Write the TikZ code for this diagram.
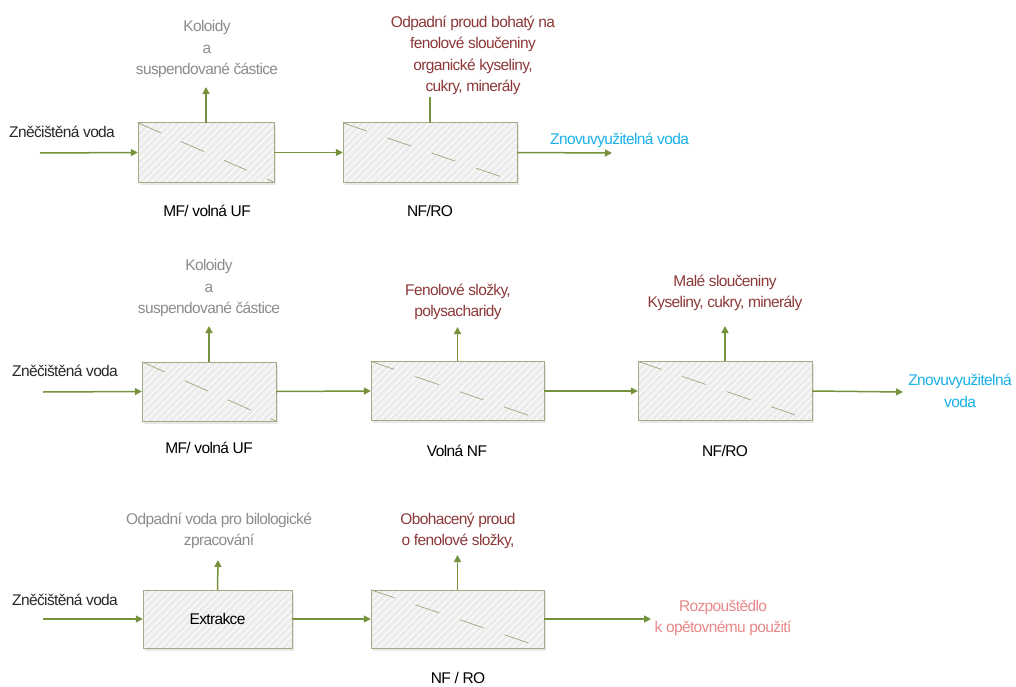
\documentclass[tikz,border=0pt]{standalone}
\usepackage{fontspec}
\setmainfont[LetterSpace=-4]{Liberation Sans}
\usetikzlibrary{arrows.meta,patterns.meta,shadows}

\definecolor{flowgreen}{RGB}{118,146,60}
\definecolor{boxline}{RGB}{163,170,132}
\definecolor{boxfill}{RGB}{236,236,236}
\definecolor{hatchline}{RGB}{160,164,120}
\definecolor{greytext}{RGB}{140,140,140}
\definecolor{redtext}{RGB}{140,56,56}
\definecolor{cyantext}{RGB}{26,176,232}
\definecolor{salmontext}{RGB}{232,136,136}
\definecolor{darktext}{RGB}{40,40,40}

\tikzset{
  procbox/.style={fill=boxfill,
    minimum height=59pt, inner sep=0pt,
    drop shadow={opacity=0.18, shadow xshift=1.5pt, shadow yshift=-2.5pt},
    postaction={pattern={Lines[angle=45,distance=5pt,line width=1.3pt]}, pattern color=white!80!boxfill},
    postaction={draw=boxline, line width=1pt}},
  flow/.style={draw=flowgreen, line width=1.5pt, -{Triangle[length=7pt,width=7pt]}},
  plainflow/.style={draw=flowgreen, line width=1.5pt},
  slash/.style={draw=hatchline, line width=0.7pt, dash pattern=on 25pt off 22pt},
  txt/.style={font=\fontsize{15.5}{21.5}\selectfont, align=center, inner sep=0pt},
  feedtxt/.style={txt, text=darktext, anchor=west},
  unittxt/.style={txt, text=black}
}

\begin{document}
\begin{tikzpicture}[x=1pt,y=-1pt]
\useasboundingbox (0,0) rectangle (1016,687);

% ---------- first line: MF/UF followed by NF/RO ----------
\node[procbox, minimum width=136pt] (a1) at (206,152.5) {};
\node[procbox, minimum width=174pt] (a2) at (430,152.5) {};
\draw[slash] (a1.north west) -- (a1.south east);
\draw[slash] (a2.north west) -- (a2.south east);

\coordinate (a0) at (40,153);
\coordinate (a1up) at (206,87);
\coordinate (a2up) at (430,97);
\coordinate (a2out) at (612,153);

\draw[flow] (a0) -- (a1.west);
\draw[flow] (a1.east) -- (a2.west);
\draw[flow] (a1.north) -- (a1up);
\draw[plainflow] (a2.north) -- (a2up);
\draw[flow] (a2.east) -- (a2out);

\node[feedtxt] (a0t) at (9,132) {Zněčištěná voda};
\node[txt, text=greytext] (a1upt) at (207,49) {Koloidy\\a\\suspendované částice};
\node[txt, text=redtext] (a2upt) at (473,55.5) {Odpadní proud bohatý na\\fenolové sloučeniny\\organické kyseliny,\\cukry, minerály};
\node[txt, text=cyantext, anchor=west] (a2outt) at (550,140) {Znovuvyužitelná voda};
\node[unittxt] (a1l) at (207,211) {MF/ volná UF};
\node[unittxt] (a2l) at (430,211) {NF/RO};

% ---------- second line: MF/UF, loose NF, NF/RO ----------
\node[procbox, minimum width=134pt] (b1) at (209,391.5) {};
\node[procbox, minimum width=173pt] (b2) at (457.5,391) {};
\node[procbox, minimum width=174pt] (b3) at (725,391) {};
\draw[slash] (b1.north west) -- (b1.south east);
\draw[slash] (b2.north west) -- (b2.south east);
\draw[slash] (b3.north west) -- (b3.south east);

\coordinate (b0) at (43,392);
\coordinate (b1up) at (209,326);
\coordinate (b2up) at (457.5,327);
\coordinate (b3up) at (725,326);
\coordinate (b3out) at (903,392);

\draw[flow] (b0) -- (b1.west);
\draw[flow] (b1.east) -- (b2.west);
\draw[flow] (b2.east) -- (b3.west);
\draw[flow] (b3.east) -- (b3out);
\draw[flow] (b1.north) -- (b1up);
\draw[flow] (b2.north) -- (b2up);
\draw[flow] (b3.north) -- (b3up);

\node[feedtxt] (b0t) at (12,371) {Zněčištěná voda};
\node[txt, text=greytext] (b1upt) at (209,288) {Koloidy\\a\\suspendované částice};
\node[txt, text=redtext] (b2upt) at (458,302) {Fenolové složky,\\polysacharidy};
\node[txt, text=redtext] (b3upt) at (725,293) {Malé sloučeniny\\Kyseliny, cukry, minerály};
\node[txt, text=cyantext] (b3outt) at (960,391) {Znovuvyužitelná\\voda};
\node[unittxt] (b1l) at (209,448) {MF/ volná UF};
\node[unittxt] (b2l) at (457,451) {Volná NF};
\node[unittxt] (b3l) at (725,451) {NF/RO};

% ---------- third line: extraction followed by NF/RO ----------
\node[procbox, minimum width=149pt, minimum height=58pt, txt, text=black] (c1) at (217.5,619) {Extrakce};
\node[procbox, minimum width=173pt, minimum height=58pt] (c2) at (457.5,619) {};
\draw[slash] (c2.north west) -- (c2.south east);

\coordinate (c0) at (43,619);
\coordinate (c1up) at (218,560);
\coordinate (c2up) at (457.5,555);
\coordinate (c2out) at (651,619);

\draw[flow] (c0) -- (c1.west);
\draw[flow] (c1.east) -- (c2.west);
\draw[flow] (c2.east) -- (c2out);
\draw[flow] (c1.north) -- (c1up);
\draw[flow] (c2.north) -- (c2up);

\node[feedtxt] (c0t) at (12,600) {Zněčištěná voda};
\node[txt, text=greytext] (c1upt) at (219,531) {Odpadní voda pro bilologické\\zpracování};
\node[txt, text=redtext] (c2upt) at (458,531) {Obohacený proud\\o fenolové složky,};
\node[txt, text=salmontext] (c2outt) at (723,618) {Rozpouštědlo\\k opětovnému použití};
\node[unittxt] (c2l) at (458,678) {NF / RO};
\end{tikzpicture}
\end{document}
